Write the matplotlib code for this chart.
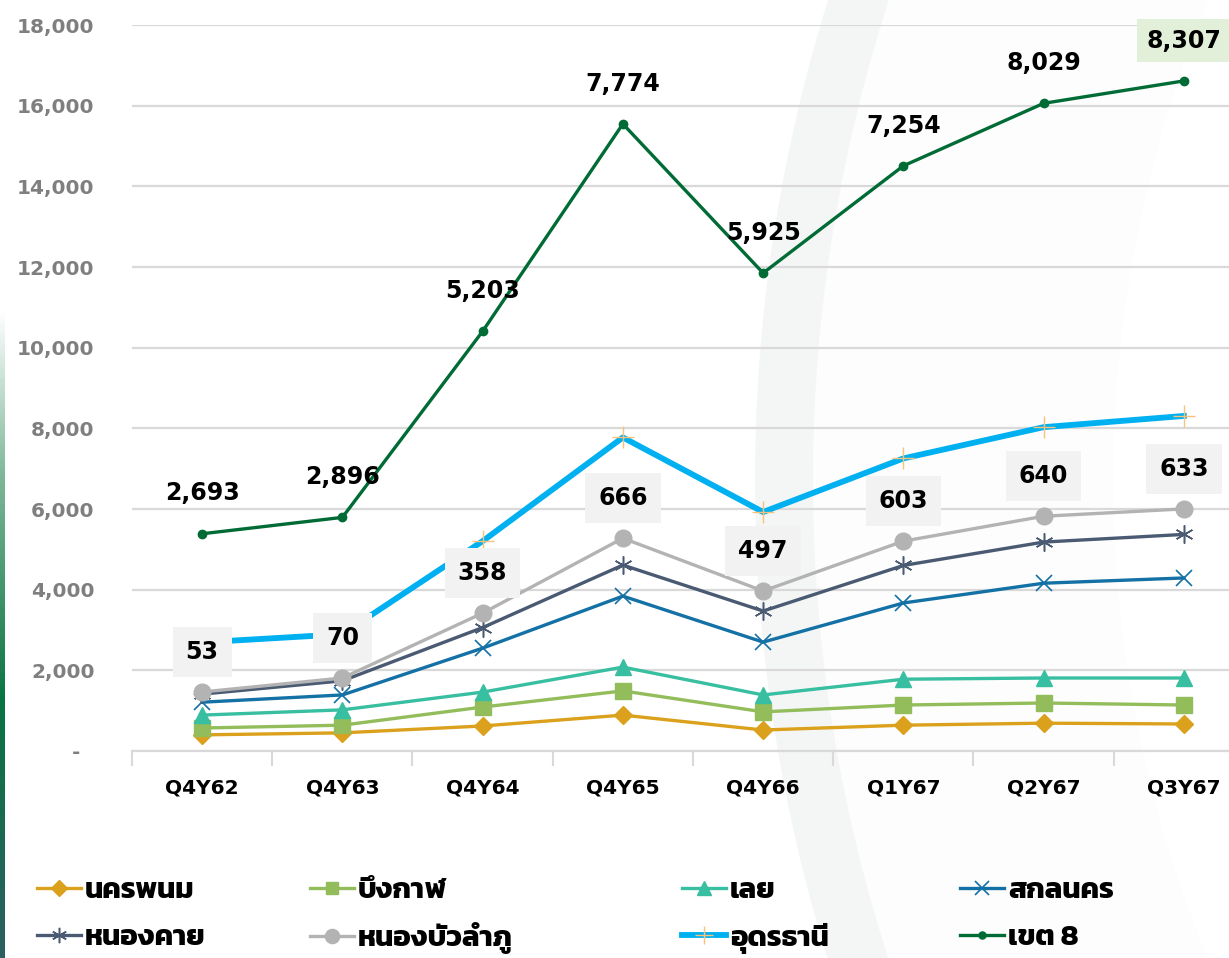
import numpy as np
import matplotlib
matplotlib.use("Agg")
import matplotlib.pyplot as plt
from matplotlib import font_manager
from matplotlib.ft2font import FT2Font
from matplotlib.patches import Wedge
from matplotlib.colors import LinearSegmentedColormap

# ---------------- data ----------------
quarters = ["Q4Y62", "Q4Y63", "Q4Y64", "Q4Y65", "Q4Y66", "Q1Y67", "Q2Y67", "Q3Y67"]
nakhon_phanom = [400, 450, 620, 890, 520, 640, 690, 670]
bueng_kan = [170, 190, 470, 600, 450, 500, 500, 470]
loei = [320, 380, 370, 590, 420, 640, 620, 670]
sakon_nakhon = [320, 370, 1090, 1760, 1310, 1890, 2350, 2480]
nong_khai = [200, 350, 510, 770, 770, 930, 1020, 1080]
nong_bua_lamphu = [53, 70, 358, 666, 497, 603, 640, 633]
udon_thani = [1230, 1086, 1785, 2498, 1958, 2051, 2209, 2304]
region_8 = [2693, 2896, 5203, 7774, 5925, 7254, 8029, 8307]

series_names = ["นครพนม", "บึงกาฬ", "เลย", "สกลนคร", "หนองคาย",
                "หนองบัวลำภู", "อุดรธานี", "เขต 8"]
y_ticks = [0, 2000, 4000, 6000, 8000, 10000, 12000, 14000, 16000, 18000]


# ---------------- fonts ----------------
def find_thai_family():
    cands = {}
    for f in font_manager.fontManager.ttflist:
        try:
            cm = FT2Font(f.fname).get_charmap()
        except Exception:
            continue
        if 0x0E19 in cm and 0x0E33 in cm:
            w = f.weight if isinstance(f.weight, int) else 400
            cands.setdefault(f.name, []).append(w)
    if not cands:
        return None
    best = sorted(cands.items(), key=lambda kv: (-max(kv[1]), kv[0]))
    return best[0][0]


thai = find_thai_family()
families = ([thai] if thai else []) + ["DejaVu Sans"]
plt.rcParams["font.family"] = families

W, H, DPI = 1229, 958, 100
fig = plt.figure(figsize=(W / DPI, H / DPI), dpi=DPI, facecolor="white")

# decorative background arc
arc2 = Wedge((23.70, 4.78), 15.57, 150, 210, width=3.0,
             transform=fig.dpi_scale_trans, facecolor="#FCFDFC",
             edgecolor="none", zorder=0)
fig.add_artist(arc2)
arc = Wedge((23.70, 4.78), 16.15, 150, 210, width=0.58,
            transform=fig.dpi_scale_trans, facecolor="#F4F6F5",
            edgecolor="none", zorder=0)
fig.add_artist(arc)

# left gradient strip
sax = fig.add_axes([0, 0, 5 / W, (958 - 310) / H])
cmap = LinearSegmentedColormap.from_list(
    "strip", [(0, "#2B5F60"), (0.4, "#0A7443"), (0.75, "#7FB89A"), (1, "#FFFFFF")])
sax.imshow(np.linspace(0, 1, 200).reshape(-1, 1), aspect="auto", cmap=cmap,
           origin="lower", extent=(0, 1, 0, 1))
sax.set_axis_off()

# axes: category pitch ~140.2 px, first at x=202
left_px, right_px = 132, 1254
top_px, bottom_px = 25, 751
ax = fig.add_axes([left_px / W, 1 - bottom_px / H,
                   (right_px - left_px) / W, (bottom_px - top_px) / H])
ax.patch.set_alpha(0)

x = np.arange(len(quarters))
stack = np.cumsum(np.array([nakhon_phanom, bueng_kan, loei, sakon_nakhon,
                            nong_khai, nong_bua_lamphu, udon_thani, region_8]),
                  axis=0)

styles = [
    dict(color="#DBA11C", lw=2.4, marker="D", ms=9, mec="#DBA11C"),
    dict(color="#92BD5A", lw=2.4, marker="s", ms=11, mec="#92BD5A"),
    dict(color="#38BEA0", lw=2.4, marker="^", ms=12, mec="#38BEA0"),
    dict(color="#1471A6", lw=2.4, marker="x", ms=12, mew=1.2, mec="#1471A6"),
    dict(color="#4A5A72", lw=2.4, marker=(6, 2, 0), ms=13, mew=1.1, mec="#4A5A72"),
    dict(color="#B3B3B3", lw=2.4, marker="o", ms=12, mec="#B3B3B3"),
    dict(color="#00B0F0", lw=4.2, marker="+", ms=16, mew=1.0, mec="#F7C27A"),
    dict(color="#006B35", lw=2.4, marker="o", ms=6, mec="#006B35"),
]

handles = []
for i, name in enumerate(series_names):
    st = styles[i]
    h, = ax.plot(x, stack[i], color=st["color"], lw=st["lw"], marker=st["marker"],
                 ms=st["ms"], mew=st.get("mew", 1.0), mec=st["mec"],
                 mfc=st["mec"], label=name, zorder=3 + i * 0.1,
                 solid_joinstyle="round")
    handles.append(h)

# data labels
for xi, (yv, v) in enumerate(zip(stack[5], nong_bua_lamphu)):
    ax.annotate(f"{v:,}", (xi, yv), xytext=(0, 29), textcoords="offset points",
                ha="center", va="center", fontsize=17, fontweight="bold",
                family="DejaVu Sans", color="black", zorder=10,
                bbox=dict(boxstyle="square,pad=0.55", fc="#F2F2F2", ec="none"))
for xi, (yv, v) in enumerate(zip(stack[7], region_8)):
    last = xi == len(region_8) - 1
    ax.annotate(f"{v:,}", (xi, yv), xytext=(0, 29), textcoords="offset points",
                ha="center", va="center", fontsize=17, fontweight="bold",
                family="DejaVu Sans", color="black", zorder=10,
                bbox=dict(boxstyle="square,pad=0.4",
                          fc="#E2F0D9" if last else "none", ec="none"))

# axes styling
ax.set_xlim(-0.5, len(quarters) - 0.5)
ax.set_ylim(0, 18000)
ax.set_yticks(y_ticks)
ax.set_yticklabels([f"{t:,}" if t else "-  " for t in y_ticks],
                   fontsize=14.5, fontweight="bold", color="#7F7F7F",
                   family="DejaVu Sans")
ax.set_xticks(x)
ax.set_xticklabels(quarters, fontsize=14.5, fontweight="bold", color="black",
                   family="DejaVu Sans")
ax.set_xticks(np.arange(-0.5, len(quarters)), minor=True)
ax.tick_params(axis="x", which="major", length=0, pad=20)
ax.tick_params(axis="x", which="minor", length=11, width=1.5, color="#D9D9D9")
ax.tick_params(axis="y", length=0, pad=27)
ax.grid(axis="y", color="#D9D9D9", lw=1.6, zorder=0)
ax.set_axisbelow(True)
for s in ["top", "right", "left"]:
    ax.spines[s].set_visible(False)
ax.spines["bottom"].set_color("#D9D9D9")
ax.spines["bottom"].set_linewidth(1.6)

# legend: one entry per slot (4 columns x 2 rows)
col_x = [37, 310, 682, 960]
row_y = [891, 938]
for i, h in enumerate(handles):
    c, r = i % 4, i // 4
    fig.legend([h], [h.get_label()], loc="center left",
               bbox_to_anchor=(col_x[c] / W, 1 - row_y[r] / H), frameon=False,
               borderpad=0, borderaxespad=0, handlelength=1.5,
               handletextpad=0.15, markerscale=0.85,
               prop=dict(size=21, weight="bold"))

fig.savefig("out.png", dpi=DPI, facecolor="white")
